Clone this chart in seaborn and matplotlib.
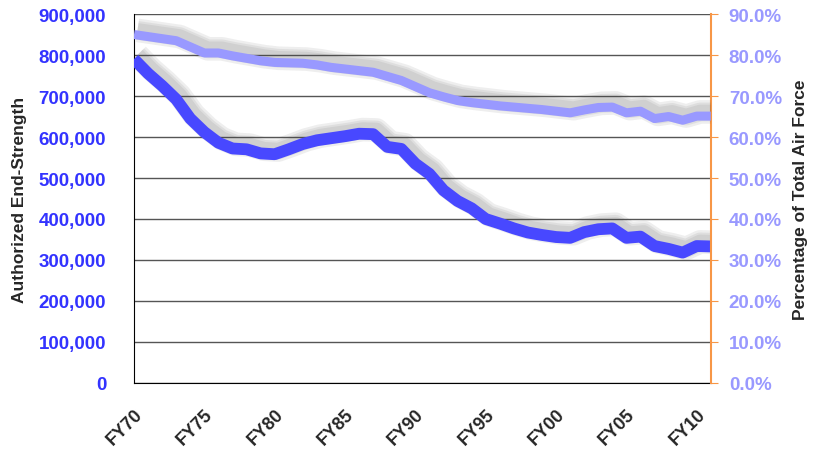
import numpy as np
import pandas as pd
import matplotlib
matplotlib.use('Agg')
import matplotlib.pyplot as plt
import matplotlib.patheffects as pe
from matplotlib.ticker import FuncFormatter, MultipleLocator
import seaborn as sns

years = list(range(1970, 2012))
end_strength = [790000, 755000, 725000, 692000, 645000, 612000, 586000, 572000, 570000, 560000,
                558000, 570000, 583000, 592000, 597000, 602000, 608000, 607000, 576000, 571000,
                535000, 510000, 470000, 444000, 426000, 400000, 389000, 377000, 367000, 361000,
                356000, 354000, 368000, 375000, 377000, 354000, 357000, 334000, 327000, 318000,
                334000, 333000]
pct_total = [85.0, 84.5, 84.0, 83.5, 82.0, 80.5, 80.5, 79.8, 79.2, 78.6,
             78.2, 78.1, 78.0, 77.6, 77.0, 76.6, 76.2, 75.8, 74.8, 73.8,
             72.3, 70.8, 69.8, 68.9, 68.4, 68.0, 67.6, 67.3, 67.0, 66.7,
             66.3, 65.9, 66.6, 67.2, 67.3, 65.9, 66.3, 64.5, 65.0, 64.1,
             65.1, 65.1]
fy_labels = ['FY70', 'FY75', 'FY80', 'FY85', 'FY90', 'FY95', 'FY00', 'FY05', 'FY10']

df = pd.DataFrame({'year': years, 'strength': end_strength, 'pct': pct_total})

sns.set_style('white')
plt.rcParams['font.family'] = ['Liberation Sans', 'DejaVu Sans']

fig = plt.figure(figsize=(8.17, 4.56), dpi=100)
ax = fig.add_axes([0.164, 0.158, 0.706, 0.809])
ax2 = ax.twinx()

# soft grey drop shadow, stacked a few times to fake a blur
def shadow():
    return [pe.SimpleLineShadow(offset=(2.5, 3), shadow_color='#444444', alpha=0.09, linewidth=w)
            for w in (17, 13.5, 10.5)] + [pe.Normal()]

sns.lineplot(data=df, x='year', y='strength', ax=ax, color='#4848FF', linewidth=8.5,
             solid_capstyle='butt', path_effects=shadow(), zorder=3)
sns.lineplot(data=df, x='year', y='pct', ax=ax2, color='#9999FF', linewidth=6.5,
             solid_capstyle='butt', path_effects=shadow(), zorder=3)

ax.set_ylim(0, 900000)
ax2.set_ylim(0, 90)
ax.set_xlim(years[0], years[-1])

ax.yaxis.set_major_locator(MultipleLocator(100000))
ax.yaxis.set_major_formatter(FuncFormatter(lambda v, p: f'{int(v):,}'))
ax2.yaxis.set_major_locator(MultipleLocator(10))
ax2.yaxis.set_major_formatter(FuncFormatter(lambda v, p: f'{v:.1f}%'))

ax.grid(axis='y', color='#555555', linewidth=1)
ax.set_axisbelow(True)

ax.set_xticks(years, minor=True)
ax.set_xticks(years[::5])
ax.set_xticklabels(fy_labels, rotation=45, ha='right', rotation_mode='anchor',
                   fontsize=13, fontweight='bold')
ax.tick_params(axis='x', which='both', direction='out', length=6, color='#888888', pad=10)

ax.tick_params(axis='y', labelsize=13.5, labelcolor='#3333FF', length=0, pad=20)
for t in ax.get_yticklabels():
    t.set_fontweight('bold')
ax2.tick_params(axis='y', labelsize=13.5, labelcolor='#9999FF', length=5, color='#F79646',
                direction='out', pad=8)
for t in ax2.get_yticklabels():
    t.set_fontweight('bold')

ax.set_xlabel('')
ax.set_ylabel('Authorized End-Strength', fontsize=12.5, fontweight='bold', labelpad=8)
ax2.set_ylabel('Percentage of Total Air Force', fontsize=12.5, fontweight='bold', labelpad=8)

for a in (ax, ax2):
    a.spines['top'].set_visible(False)
ax.spines['left'].set_color('black')
ax.spines['bottom'].set_color('black')
ax.spines['right'].set_visible(False)
ax2.spines['left'].set_visible(False)
ax2.spines['bottom'].set_visible(False)
ax2.spines['right'].set_color('#F79646')
ax2.spines['right'].set_linewidth(1.5)

fig.savefig('out.png', dpi=100)
